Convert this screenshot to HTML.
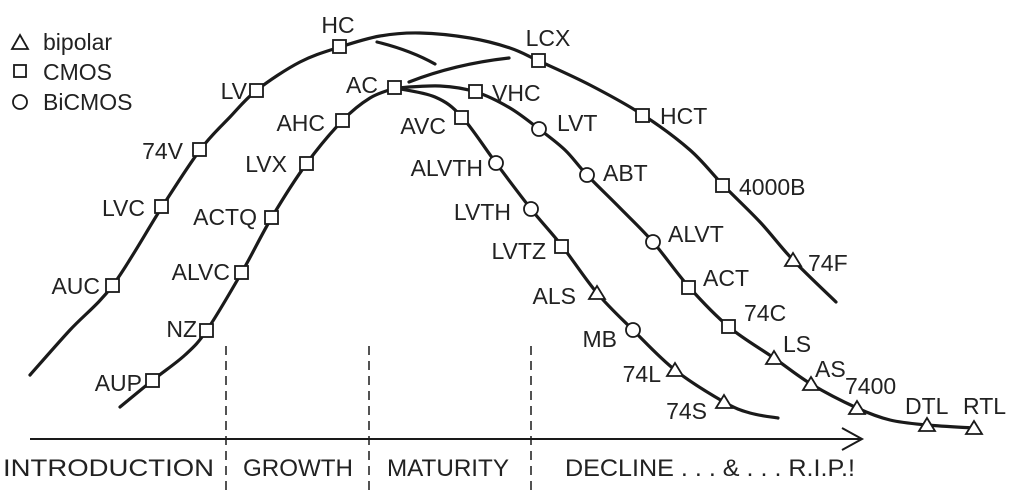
<!DOCTYPE html>
<html><head><meta charset="utf-8"><style>
html,body{margin:0;padding:0;background:#fff;}
svg{display:block;}
text{font-family:"Liberation Sans",sans-serif;font-size:23px;fill:#222;}
.c{fill:none;stroke:#1a1a1a;stroke-width:3.2;stroke-linejoin:round;stroke-linecap:round;}
.m{fill:#fff;stroke:#1a1a1a;stroke-width:1.8;}
.b{font-size:24px;}
</style></head><body>
<svg id="s" width="1011" height="499" viewBox="0 0 1011 499" xmlns="http://www.w3.org/2000/svg">
<polyline class="c" points="30,375 70,330 113,285 162,207 200,150 230,117 257,90 300,62 340,47 380,36 420,33 470,38 510,48 539,61 590,85 643,115 690,150 723,185 760,222 793,260 836,302"/>
<polyline class="c" points="120,407 153,380 185,355 207,330 242,272 272,217 307,163 343,120 370,98 395,88"/>
<polyline class="c" points="395,88 440,86 476,92 510,108 539,129 565,150 587,175 620,208 653,242 689,287 729,327 774,358 811,384 857,408 890,420 927,425 974,428"/>
<polyline class="c" points="395,88 435,97 462,117 496,163 531,209 562,246 597,293 633,330 675,370 724,402 750,413 778,418"/>
<path class="c" d="M377,42 Q410,50 435,64"/>
<path class="c" d="M409,82 Q455,64 509,58"/>
<g stroke="#1a1a1a" stroke-width="1.5" stroke-dasharray="9,6">
<line x1="226" y1="346" x2="226" y2="492"/><line x1="369" y1="346" x2="369" y2="492"/><line x1="531" y1="346" x2="531" y2="492"/>
</g>
<line x1="30" y1="439" x2="862" y2="439" stroke="#1a1a1a" stroke-width="2"/>
<polyline points="842,428 862,439 842,450" fill="none" stroke="#1a1a1a" stroke-width="2"/>
<g class="m">
<rect x="333" y="40" width="13" height="13"/><rect x="250" y="84" width="13" height="13"/><rect x="193" y="143" width="13" height="13"/><rect x="155" y="200" width="13" height="13"/><rect x="106" y="279" width="13" height="13"/>
<rect x="532" y="54" width="13" height="13"/><rect x="636" y="109" width="13" height="13"/><rect x="716" y="179" width="13" height="13"/>
<rect x="388" y="81" width="13" height="13"/><rect x="336" y="114" width="13" height="13"/><rect x="300" y="157" width="13" height="13"/><rect x="265" y="211" width="13" height="13"/><rect x="235" y="266" width="13" height="13"/><rect x="200" y="324" width="13" height="13"/><rect x="146" y="374" width="13" height="13"/>
<rect x="469" y="85" width="13" height="13"/><rect x="682" y="281" width="13" height="13"/><rect x="722" y="320" width="13" height="13"/>
<rect x="455" y="111" width="13" height="13"/><rect x="555" y="240" width="13" height="13"/>
<circle cx="539" cy="129" r="7"/><circle cx="587" cy="175" r="7"/><circle cx="653" cy="242" r="7"/>
<circle cx="496" cy="163" r="7"/><circle cx="531" cy="209" r="7"/><circle cx="633" cy="330" r="7"/>
<polygon points="793,253 801,266 785,266"/><polygon points="774,351 782,364 766,364"/><polygon points="811,377 819,390 803,390"/><polygon points="857,401 865,414 849,414"/><polygon points="927,418 935,431 919,431"/><polygon points="974,421 982,434 966,434"/>
<polygon points="597,286 605,299 589,299"/><polygon points="675,363 683,376 667,376"/><polygon points="724,395 732,408 716,408"/>
<polygon points="20,35 28,49 12,49"/><rect x="14" y="65" width="12" height="12"/><circle cx="20" cy="102" r="7"/>
</g>
<text x="43" y="50">bipolar</text><text x="43" y="80">CMOS</text><text x="43" y="110">BiCMOS</text>
<g text-anchor="end">
<text x="247" y="99">LV</text><text x="183" y="159">74V</text><text x="145" y="216">LVC</text><text x="100" y="294">AUC</text>
<text x="378" y="93">AC</text><text x="325" y="131">AHC</text><text x="287" y="172">LVX</text><text x="257" y="225">ACTQ</text><text x="230" y="280">ALVC</text><text x="197" y="337">NZ</text><text x="142" y="391">AUP</text>
<text x="446" y="134">AVC</text><text x="483" y="176">ALVTH</text><text x="511" y="220">LVTH</text><text x="546" y="259">LVTZ</text><text x="576" y="304">ALS</text><text x="617" y="347">MB</text><text x="661" y="382">74L</text><text x="707" y="419">74S</text>
</g>
<text x="338" y="33" text-anchor="middle">HC</text><text x="548" y="46" text-anchor="middle">LCX</text>
<text x="492" y="101">VHC</text><text x="660" y="124">HCT</text><text x="739" y="195">4000B</text><text x="808" y="271">74F</text>
<text x="557" y="131">LVT</text><text x="603" y="181">ABT</text><text x="668" y="242">ALVT</text><text x="703" y="286">ACT</text><text x="744" y="321">74C</text><text x="783" y="352">LS</text><text x="815" y="377">AS</text><text x="845" y="394">7400</text><text x="905" y="414">DTL</text><text x="963" y="414">RTL</text>
<text class="b" x="3" y="476" textLength="211" lengthAdjust="spacingAndGlyphs">INTRODUCTION</text><text class="b" x="243" y="476" textLength="110" lengthAdjust="spacingAndGlyphs">GROWTH</text><text class="b" x="387" y="476" textLength="122" lengthAdjust="spacingAndGlyphs">MATURITY</text><text class="b" x="565" y="476" textLength="290" lengthAdjust="spacingAndGlyphs">DECLINE  . . . &amp; . . .  R.I.P.!</text>
</svg>
<script>
document.querySelectorAll('polyline.c').forEach(function(pl){
var p=pl.getAttribute('points').trim().split(/\s+/).map(function(s){return s.split(',').map(Number);});
var d='M'+p[0][0]+','+p[0][1];
for(var i=0;i<p.length-1;i++){var a=p[i-1]||p[i],b=p[i],c=p[i+1],e=p[i+2]||c;
d+=' C'+(b[0]+(c[0]-a[0])/6)+','+(b[1]+(c[1]-a[1])/6)+' '+(c[0]-(e[0]-b[0])/6)+','+(c[1]-(e[1]-b[1])/6)+' '+c[0]+','+c[1];}
var path=document.createElementNS('http://www.w3.org/2000/svg','path');path.setAttribute('class','c');path.setAttribute('d',d);pl.parentNode.replaceChild(path,pl);});
</script>
</body></html>
